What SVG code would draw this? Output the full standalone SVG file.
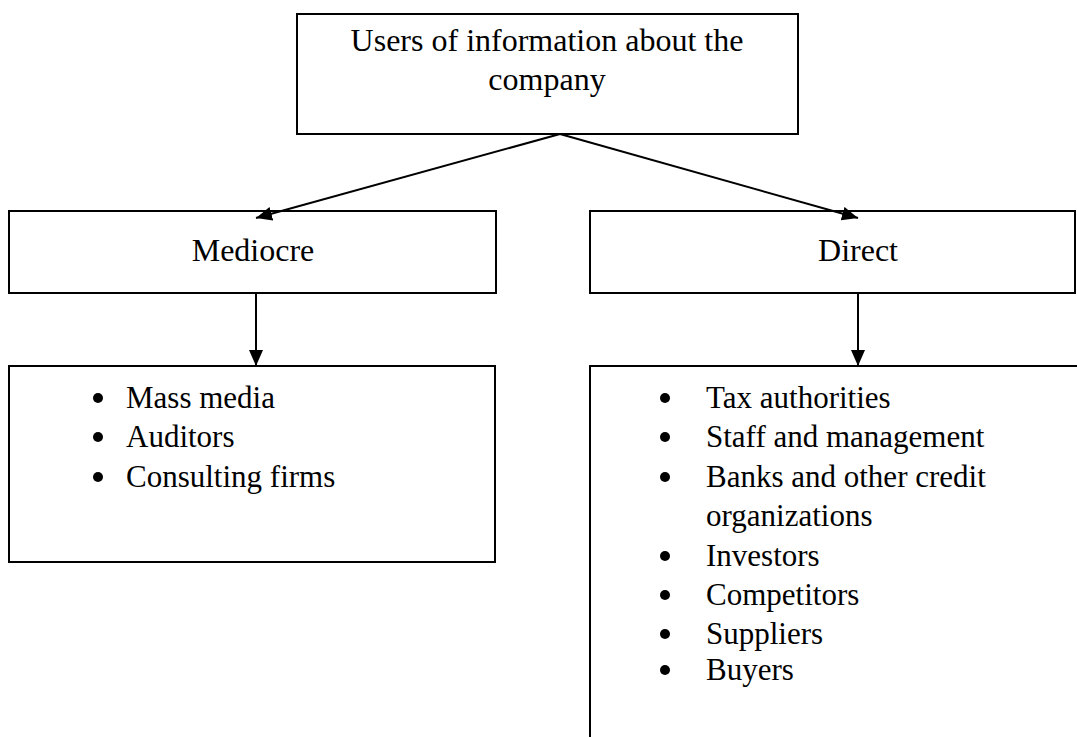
<svg xmlns="http://www.w3.org/2000/svg" width="1077" height="737" viewBox="0 0 1077 737">
<style>
.box{fill:#fff;stroke:#000;stroke-width:2}
.t{font-family:"Liberation Serif","Times New Roman",serif;font-size:31px;fill:#000}
.h{font-size:32px}
.c{text-anchor:middle}
.ln{stroke:#000;stroke-width:2;fill:none}
</style>
<defs>
<marker id="ahb" viewBox="0 0 16 14" refX="16" refY="7" markerWidth="16" markerHeight="14" markerUnits="userSpaceOnUse" orient="auto">
<path d="M0,0 L16,7 L0,14 z" fill="#000"/>
</marker>
</defs>
<rect width="1077" height="737" fill="#fff"/>
<g id="top">
<rect class="box" x="297" y="14" width="501" height="120"/>
<text class="t h c" x="547" y="51">Users of information about the</text>
<text class="t h c" x="547" y="90">company</text>
</g>
<g id="mediocre">
<rect class="box" x="9" y="211" width="487" height="82"/>
<text class="t h c" x="253" y="261">Mediocre</text>
</g>
<g id="direct">
<rect class="box" x="590" y="211" width="485" height="82"/>
<text class="t h c" x="858" y="261">Direct</text>
</g>
<g id="list-left">
<rect class="box" x="9" y="366" width="486" height="196"/>
<circle cx="98" cy="398" r="5"/>
<circle cx="98" cy="437" r="5"/>
<circle cx="98" cy="477" r="5"/>
<text class="t" x="126" y="408">Mass media</text>
<text class="t" x="126" y="447">Auditors</text>
<text class="t" x="126" y="487">Consulting firms</text>
</g>
<g id="list-right">
<rect class="box" x="590" y="366" width="500" height="400"/>
<circle cx="665" cy="398" r="5"/>
<circle cx="665" cy="437" r="5"/>
<circle cx="665" cy="477" r="5"/>
<circle cx="665" cy="556" r="5"/>
<circle cx="665" cy="595" r="5"/>
<circle cx="665" cy="634" r="5"/>
<circle cx="665" cy="670" r="5"/>
<text class="t" x="706" y="408">Tax authorities</text>
<text class="t" x="706" y="447">Staff and management</text>
<text class="t" x="706" y="487">Banks and other credit</text>
<text class="t" x="706" y="526">organizations</text>
<text class="t" x="706" y="566">Investors</text>
<text class="t" x="706" y="605">Competitors</text>
<text class="t" x="706" y="644">Suppliers</text>
<text class="t" x="706" y="680">Buyers</text>
</g>
<g id="connectors">
<line class="ln" x1="560" y1="134" x2="256" y2="218" marker-end="url(#ahb)"/>
<line class="ln" x1="560" y1="134" x2="858" y2="218" marker-end="url(#ahb)"/>
<line class="ln" x1="256" y1="293" x2="256" y2="366" marker-end="url(#ahb)"/>
<line class="ln" x1="858" y1="293" x2="858" y2="366" marker-end="url(#ahb)"/>
</g>
</svg>
